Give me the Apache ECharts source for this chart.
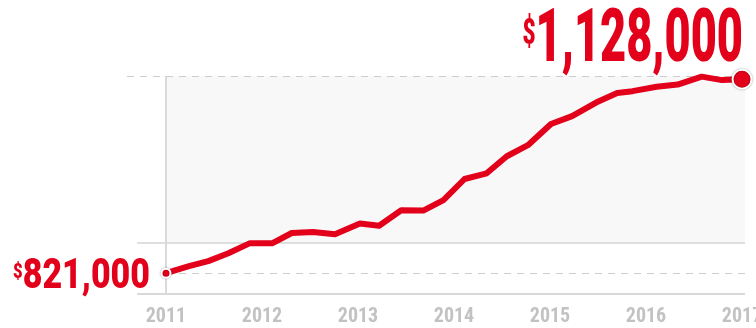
<!DOCTYPE html>
<html><head><meta charset="utf-8">
<script src="https://cdn.jsdelivr.net/npm/echarts@6/dist/echarts.min.js"></script>
<style>html,body{margin:0;padding:0;background:#fff}#c{width:756px;height:328px}</style>
</head><body><div id="c"></div>
<script>
// ---- data ----
const years = [2011.00, 2011.24, 2011.44, 2011.65, 2011.875, 2012.11, 2012.31, 2012.53, 2012.76, 2013.02, 2013.22, 2013.45, 2013.68, 2013.89, 2014.11, 2014.34, 2014.55, 2014.77, 2015.01, 2015.23, 2015.48, 2015.70, 2015.86, 2016.11, 2016.33, 2016.58, 2016.79, 2017.00];
const prices = [821000, 832000, 840000, 852500, 868500, 868500, 884500, 886000, 882500, 899500, 896000, 920500, 920000, 936500, 970000, 979000, 1006000, 1023500, 1057000, 1069500, 1091000, 1106000, 1109000, 1116000, 1119500, 1132000, 1126500, 1128000];
const tickYears = [2011, 2012, 2013, 2014, 2015, 2016, 2017];
const currency = '$';
const startText = '821,000';
const endText = '1,128,000';

// ---- frame (axis-space) settings ----
const X_MIN = 2010.594, X_MAX = 2017.031, Y_MIN = 788000, Y_MAX = 1133000;
const FRAME_X = 2011, BASE_Y = 868500, AXIS_LINE_X = 2010.7;

const RED = '#e2001a';
const NARROW = '"Liberation Sans Narrow", "Roboto Condensed", "DejaVu Sans Condensed", sans-serif';

const chart = echarts.init(document.getElementById('c'), null, {renderer: 'canvas'});
const n = years.length;
const data = years.map((x, i) => {
  const item = {value: [x, prices[i]]};
  if (i === 0) {
    item.symbol = 'circle'; item.symbolSize = 9;
    item.itemStyle = {color: RED, borderColor: '#fff', borderWidth: 2, shadowBlur: 2, shadowColor: 'rgba(0,0,0,0.35)'};
  } else if (i === n - 1) {
    item.symbol = 'circle'; item.symbolSize = 19;
    item.itemStyle = {color: RED, borderColor: '#fff', borderWidth: 2, shadowBlur: 2, shadowColor: 'rgba(0,0,0,0.35)'};
  } else {
    item.symbol = 'none';
  }
  return item;
});

const solid = (c, w) => ({type: 'solid', color: c, width: w});
const dashed = {type: [7, 6], color: '#cdcdcd', width: 1.2};

chart.setOption({
  animation: false,
  grid: {left: 127, right: 11, top: 76, bottom: 34, containLabel: false, outerBoundsMode: 'none'},
  xAxis: {
    type: 'value', min: X_MIN, max: X_MAX,
    axisLine: {show: false}, axisTick: {show: false}, splitLine: {show: false},
    axisLabel: {
      customValues: tickYears, formatter: v => String(Math.round(v)),
      color: '#c2c2c2', fontFamily: NARROW, fontWeight: 'bold', fontSize: 20, margin: 13, hideOverlap: false
    }
  },
  yAxis: {type: 'value', min: Y_MIN, max: Y_MAX, show: false},
  series: [{
    type: 'line', data: data, clip: false, z: 5,
    lineStyle: {color: RED, width: 6, cap: 'round', join: 'round'},
    markArea: {
      silent: true,
      itemStyle: {color: '#f8f8f8'},
      data: [[{xAxis: FRAME_X, yAxis: BASE_Y}, {xAxis: X_MAX, yAxis: Y_MAX}]]
    },
    markLine: {
      silent: true, symbol: 'none', label: {show: false}, animation: false,
      data: [
        [{coord: [AXIS_LINE_X, BASE_Y], lineStyle: solid('#d4d4d4', 1.5)}, {coord: [X_MAX, BASE_Y]}],
        [{coord: [AXIS_LINE_X, Y_MIN], lineStyle: solid('#d9d9d9', 2)}, {coord: [X_MAX, Y_MIN]}],
        [{coord: [FRAME_X, Y_MIN], lineStyle: solid('#dadada', 2)}, {coord: [FRAME_X, Y_MAX]}],
        [{coord: [years[0], prices[0]], lineStyle: dashed}, {coord: [X_MAX, prices[0]]}],
        [{coord: [X_MIN, Y_MAX], lineStyle: dashed}, {coord: [X_MAX, Y_MAX]}]
      ]
    }
  }]
});

const p0 = chart.convertToPixel({gridIndex: 0}, [years[0], prices[0]]);
const p1 = chart.convertToPixel({gridIndex: 0}, [years[n - 1], prices[n - 1]]);
const fam = 'Roboto, "Noto Sans", sans-serif';
function tok(size, lh, va) {
  return {fontSize: size, fontFamily: fam, fontWeight: 900, fill: RED, color: RED, lineHeight: lh, verticalAlign: va};
}
chart.setOption({
  graphic: [
    {
      type: 'text', x: p0[0] - 16, y: p0[1] + 4, scaleX: 0.79, z: 10,
      style: {
        text: '{c|' + currency + '}{n|' + startText + '}',
        align: 'right', verticalAlign: 'middle', textAlign: 'right', textVerticalAlign: 'middle',
        rich: {c: tok(21, 15, 'top'), n: tok(43, 30, 'middle')}
      }
    },
    {
      type: 'text', x: p1[0] + 1, y: p1[1] - 37, scaleX: 0.61, z: 10,
      style: {
        text: '{c|' + currency + '}{n|' + endText + '}',
        align: 'right', verticalAlign: 'middle', textAlign: 'right', textVerticalAlign: 'middle',
        rich: {c: tok(37, 30, 'top'), n: tok(74, 52, 'middle')}
      }
    }
  ]
});
</script></body></html>
